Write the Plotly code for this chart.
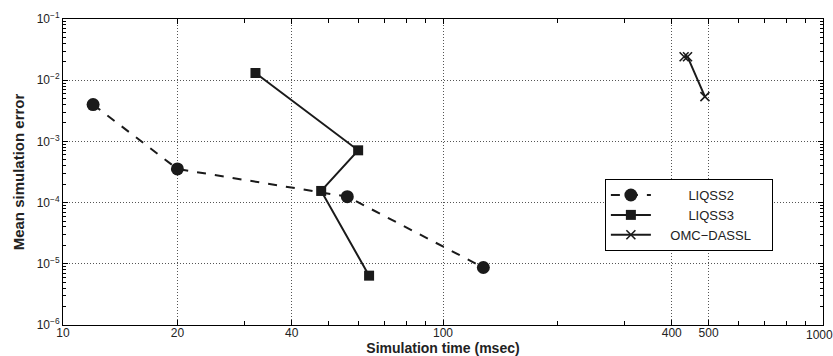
import math
import plotly.graph_objects as go

liqss2_time = [12.0, 20.0, 56.0, 127.7]
liqss2_err = [4.0e-3, 3.55e-4, 1.25e-4, 8.7e-6]

liqss3_time = [32.1, 59.8, 47.8, 63.9]
liqss3_err = [1.31e-2, 7.15e-4, 1.55e-4, 6.4e-6]

omc_time = [431.0, 440.0, 489.0]
omc_err = [2.42e-2, 2.42e-2, 5.4e-3]

series_names = ["LIQSS2", "LIQSS3", "OMC−DASSL"]

x_ticks = [10, 20, 40, 100, 400, 500, 1000]
x_ticklabels = ["10", "20", "40", "100", "400", "500", "1000"]
x_minor = [30, 50, 60, 70, 80, 90, 200, 300, 600, 700, 800, 900]

y_ticks = [1e-6, 1e-5, 1e-4, 1e-3, 1e-2, 1e-1]
y_ticklabels = ["10<sup>−6</sup>", "10<sup>−5</sup>", "10<sup>−4</sup>",
                "10<sup>−3</sup>", "10<sup>−2</sup>", "10<sup>−1</sup>"]
y_minor = [m * 10.0 ** e for e in range(-6, -1) for m in range(2, 10)]

line_col = "#1a1a1a"
txt_col = "#222"
fam = "Liberation Sans, Arial, sans-serif"
NB = "\u00a0"

legend_labels = [NB * 9 + series_names[0] + NB * 9,
                 NB * 9 + series_names[1] + NB * 9,
                 NB * 4 + series_names[2] + NB * 4]
# last tick label is drawn as an annotation at the same axis value so it stays inside the window
x_ticktext = x_ticklabels[:-1] + [""]

fig = go.Figure()
fig.add_trace(go.Scatter(
    x=liqss2_time, y=liqss2_err, name=legend_labels[0], mode="lines+markers",
    line=dict(color=line_col, width=2, dash="dash"),
    marker=dict(symbol="circle", size=13, color=line_col),
))
fig.add_trace(go.Scatter(
    x=liqss3_time, y=liqss3_err, name=legend_labels[1], mode="lines+markers",
    line=dict(color=line_col, width=2),
    marker=dict(symbol="square", size=10, color=line_col),
))
fig.add_trace(go.Scatter(
    x=omc_time, y=omc_err, name=legend_labels[2], mode="lines+markers",
    line=dict(color=line_col, width=2),
    marker=dict(symbol="x-thin", size=9, line=dict(color=line_col, width=1.6)),
))

fig.add_annotation(
    x=math.log10(x_ticks[-1]), xref="x", y=0, yref="paper",
    text=x_ticklabels[-1], showarrow=False,
    xanchor="center", yanchor="top", xshift=-4, yshift=-1,
    font=dict(family=fam, size=12, color=txt_col),
)

fig.update_layout(
    width=833, height=356,
    margin=dict(l=63, r=10, t=19, b=31, autoexpand=False),
    paper_bgcolor="white", plot_bgcolor="white",
    font=dict(family=fam, size=12, color=txt_col),
    showlegend=True,
    legend=dict(
        x=0.713, y=0.477, xanchor="left", yanchor="top",
        bgcolor="white", bordercolor="black", borderwidth=1,
        font=dict(family=fam, size=13, color=txt_col),
        tracegroupgap=0, itemwidth=40,
    ),
    xaxis=dict(
        type="log", range=[0.99999, 3.00001], automargin=False,
        tickmode="array", tickvals=x_ticks, ticktext=x_ticktext,
        ticklabelstandoff=-3,
        ticks="inside", ticklen=5, tickcolor="black", tickwidth=1,
        showgrid=True, gridcolor="#555", griddash="1px,2px", gridwidth=1,
        showline=True, linecolor="black", linewidth=1, mirror="allticks",
        zeroline=False,
        minor=dict(tickmode="array", tickvals=x_minor, ticks="inside",
                   ticklen=4, tickcolor="black", showgrid=False),
        title=dict(text="<b>Simulation time (msec)</b>", standoff=6,
                   font=dict(size=14, color=txt_col)),
        tickfont=dict(size=12, color=txt_col),
    ),
    yaxis=dict(
        type="log", range=[-6.00001, -0.99999], automargin=False,
        tickmode="array", tickvals=y_ticks, ticktext=y_ticklabels,
        ticks="inside", ticklen=5, tickcolor="black", tickwidth=1,
        showgrid=True, gridcolor="#555", griddash="1px,2px", gridwidth=1,
        showline=True, linecolor="black", linewidth=1, mirror="allticks",
        zeroline=False,
        minor=dict(tickmode="array", tickvals=y_minor, ticks="inside",
                   ticklen=3, tickcolor="black", showgrid=False),
        title=dict(text="<b>Mean simulation error</b>", standoff=8,
                   font=dict(size=15, color=txt_col)),
        tickfont=dict(size=12, color=txt_col),
    ),
)

fig.write_html(
    "out.html",
    config={"displayModeBar": False},
    post_script="document.body.style.margin='0';document.body.style.overflow='hidden';",
)
